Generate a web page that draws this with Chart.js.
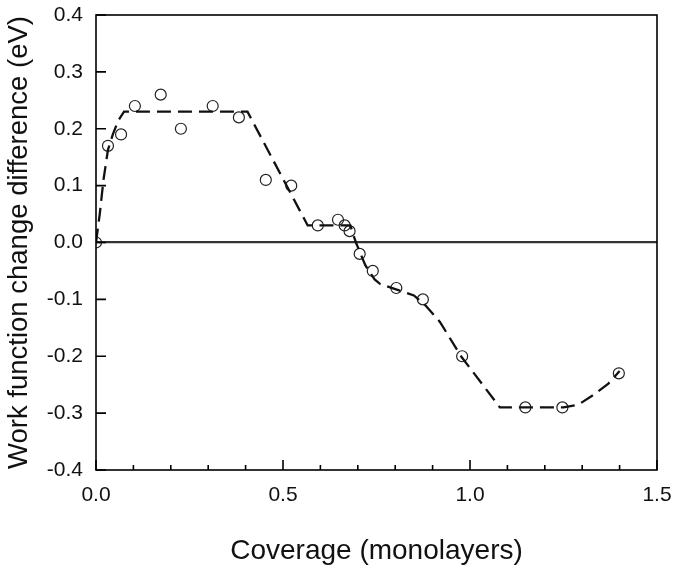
<!DOCTYPE html>
<html>
<head>
<meta charset="utf-8">
<script src="https://cdn.jsdelivr.net/npm/chart.js@4.4.1/dist/chart.umd.min.js"></script>
<style>
  body { margin: 0; background: #fff; }
  #wrap { width: 674px; height: 570px; }
</style>
</head>
<body>
<div id="wrap"><canvas id="wfChart"></canvas></div>
<script>
// measured points (open circles)
var coverage = [0, 0.032, 0.067, 0.104, 0.173, 0.227, 0.312, 0.382, 0.454, 0.522, 0.593, 0.647, 0.665, 0.678, 0.705, 0.74, 0.803, 0.874, 0.979, 1.148, 1.247, 1.398];
var wfDiff = [0, 0.17, 0.19, 0.24, 0.26, 0.20, 0.24, 0.22, 0.11, 0.10, 0.03, 0.04, 0.03, 0.02, -0.02, -0.05, -0.08, -0.10, -0.20, -0.29, -0.29, -0.23];

// dashed guide line
var guideX = [0, 0.01, 0.02, 0.032, 0.045, 0.06, 0.075, 0.405, 0.566, 0.68, 0.695, 0.72, 0.745, 0.76, 0.85, 0.88, 0.92, 0.976, 1.08, 1.25, 1.29, 1.33, 1.37, 1.40];
var guideY = [0, 0.05, 0.11, 0.163, 0.19, 0.215, 0.23, 0.23, 0.03, 0.03, 0.0, -0.04, -0.065, -0.073, -0.093, -0.11, -0.14, -0.20, -0.29, -0.29, -0.285, -0.268, -0.248, -0.226];

var xTicks = [0, 0.5, 1.0, 1.5];
var xMinor = [0.1, 0.2, 0.3, 0.4, 0.6, 0.7, 0.8, 0.9, 1.1, 1.2, 1.3, 1.4];
var yTicks = [-0.4, -0.3, -0.2, -0.1, 0, 0.1, 0.2, 0.3, 0.4];

function pairs(xs, ys) {
  return xs.map(function (x, i) { return { x: x, y: ys[i] }; });
}

// inward tick marks + box frame
var frame = {
  id: 'frame',
  afterDraw: function (chart) {
    var c = chart.ctx, a = chart.chartArea;
    var xs = chart.scales.x, ys = chart.scales.y;
    c.save();
    c.strokeStyle = '#000';
    c.lineWidth = 1.6;
    c.strokeRect(a.left, a.top, a.right - a.left, a.bottom - a.top);
    c.beginPath();
    yTicks.forEach(function (v) {
      var p = ys.getPixelForValue(v);
      c.moveTo(a.left, p); c.lineTo(a.left + 10, p);
    });
    xTicks.forEach(function (v) {
      var p = xs.getPixelForValue(v);
      c.moveTo(p, a.bottom); c.lineTo(p, a.bottom - 10);
    });
    xMinor.forEach(function (v) {
      var p = xs.getPixelForValue(v);
      c.moveTo(p, a.bottom); c.lineTo(p, a.bottom - 5);
    });
    c.stroke();
    c.restore();
  }
};

var font = 'Arial, "Liberation Sans", Helvetica, sans-serif';

new Chart(document.getElementById('wfChart'), {
  type: 'scatter',
  data: {
    datasets: [{
      data: pairs(guideX, guideY),
      showLine: true,
      borderColor: '#111',
      borderWidth: 2.3,
      borderDash: [14, 7],
      pointRadius: 0,
      tension: 0
    }, {
      data: pairs(coverage, wfDiff),
      pointRadius: 5.5,
      pointBorderWidth: 1.2,
      borderColor: '#222',
      backgroundColor: 'rgba(0,0,0,0)'
    }]
  },
  options: {
    responsive: true,
    maintainAspectRatio: false,
    animation: false,
    layout: { padding: { top: 15, right: 17, left: 0, bottom: 0 } },
    plugins: { legend: { display: false }, tooltip: { enabled: false } },
    scales: {
      x: {
        min: 0, max: 1.5,
        afterFit: function (s) { s.height = 100; s.paddingLeft = 0; s.paddingRight = 0; },
        afterBuildTicks: function (s) { s.ticks = xTicks.map(function (v) { return { value: v }; }); },
        grid: { display: false, drawTicks: false },
        border: { display: false },
        ticks: {
          padding: 13, color: '#111', maxRotation: 0,
          font: { family: font, size: 21 },
          callback: function (v) { return v.toFixed(1); }
        },
        title: {
          display: true, text: 'Coverage (monolayers)', color: '#111',
          font: { family: font, size: 28 }, padding: { bottom: 2 }
        }
      },
      y: {
        min: -0.4, max: 0.4,
        afterFit: function (s) { s.width = 96; s.paddingTop = 0; s.paddingBottom = 0; },
        afterBuildTicks: function (s) { s.ticks = yTicks.map(function (v) { return { value: v }; }); },
        grid: {
          drawTicks: false,
          color: function (ctx) { return ctx.tick && ctx.tick.value === 0 ? '#333' : 'rgba(0,0,0,0)'; },
          lineWidth: 2.2
        },
        border: { display: false },
        ticks: {
          padding: 13, color: '#111',
          font: { family: font, size: 21 },
          callback: function (v) { return v.toFixed(1); }
        },
        title: {
          display: true, text: 'Work function change difference (eV)', color: '#111',
          font: { family: font, size: 27.5 }, padding: { top: 3 }
        }
      }
    }
  },
  plugins: [frame]
});
</script>
</body>
</html>
